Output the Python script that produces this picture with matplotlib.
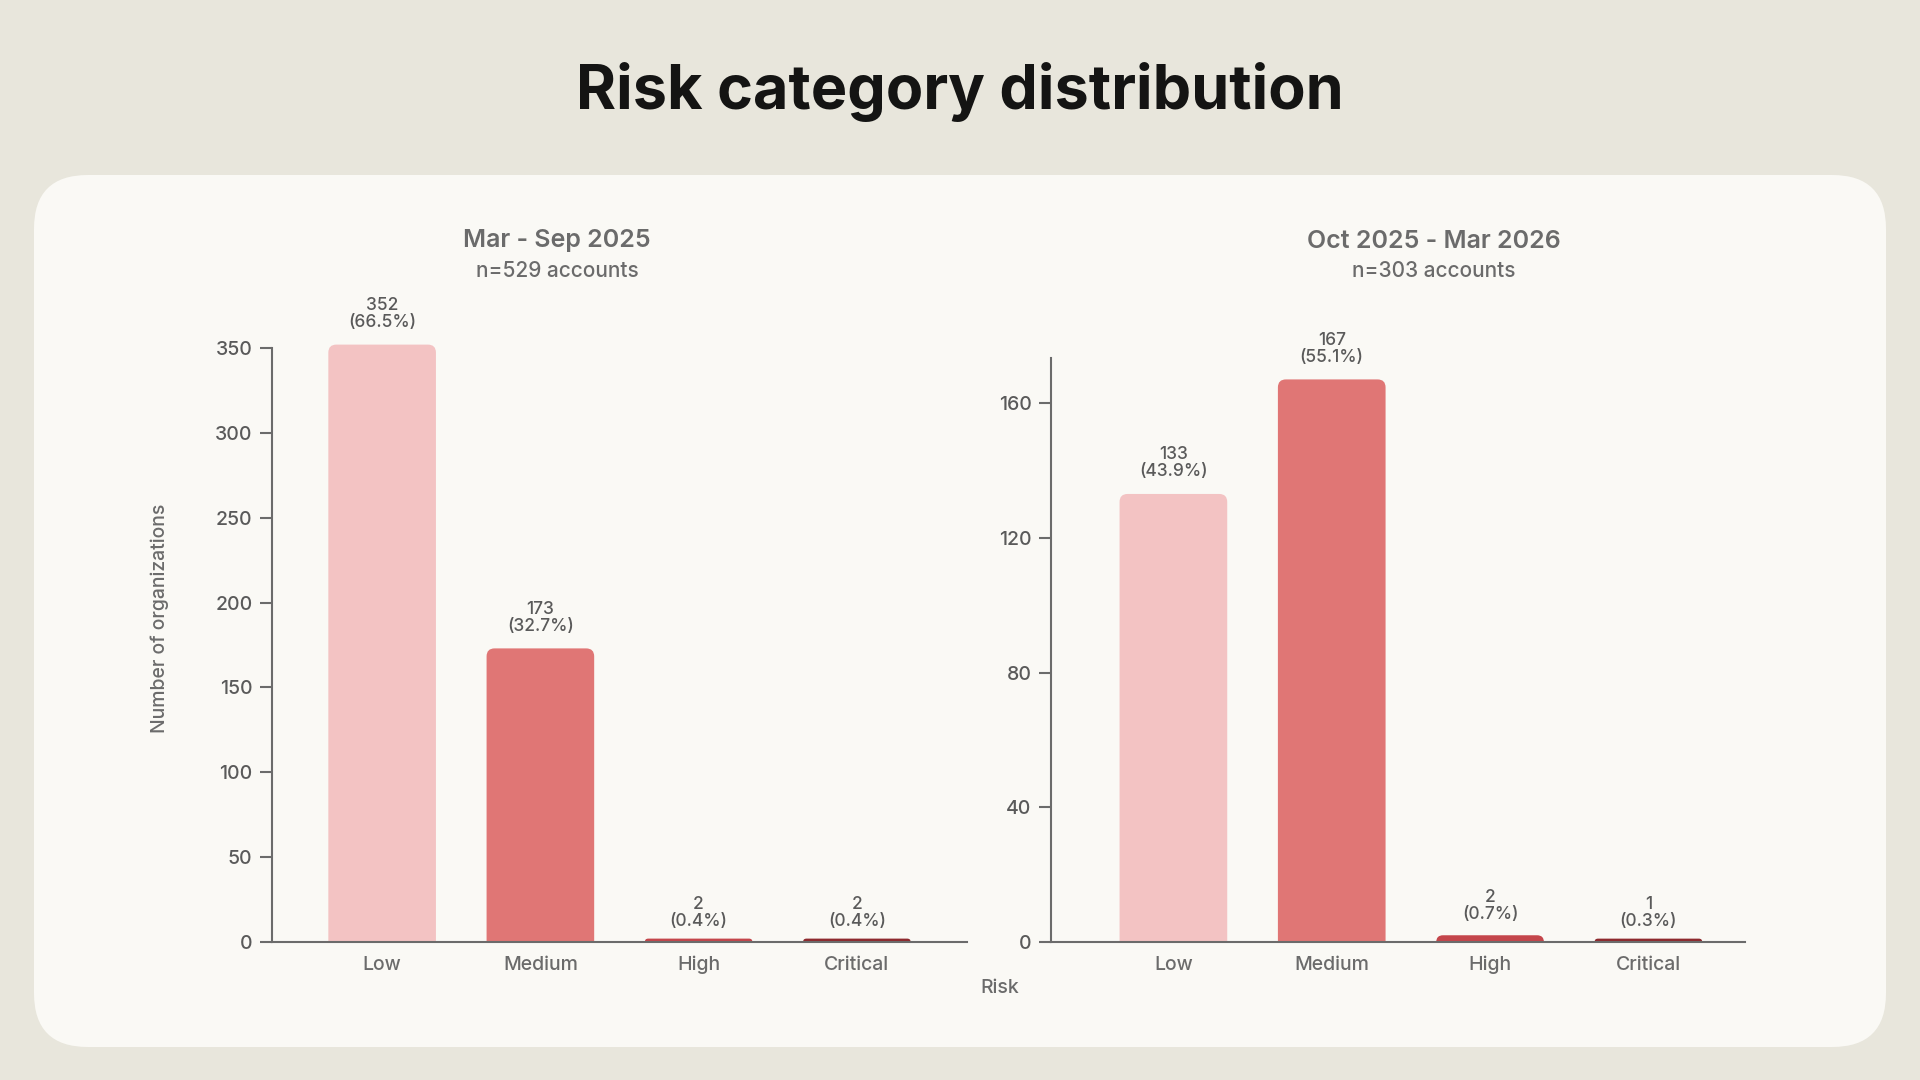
import matplotlib
matplotlib.use("Agg")
import matplotlib.pyplot as plt
from matplotlib.patches import FancyBboxPatch

plt.rcParams['font.family'] = ['Inter', 'DejaVu Sans']

# data
categories = ["Low", "Medium", "High", "Critical"]
period1_counts = [352, 173, 2, 2]
period1_pcts = [66.5, 32.7, 0.4, 0.4]
period2_counts = [133, 167, 2, 1]
period2_pcts = [43.9, 55.1, 0.7, 0.3]
period1_title = "Mar - Sep 2025"
period1_sub = "n=529 accounts"
period2_title = "Oct 2025 - Mar 2026"
period2_sub = "n=303 accounts"
left_ticks = [0, 50, 100, 150, 200, 250, 300, 350]
right_ticks = [0, 40, 80, 120, 160]

bar_colors = ["#F3C3C3", "#E07675", "#C4464B", "#8E2A2E"]
bg = "#E8E6DC"
card = "#FAF9F5"
grey = "#6B6B6B"
txt = "#5A5A5A"

W, H = 1920, 1080
fig = plt.figure(figsize=(19.2, 10.8), dpi=100)
fig.patch.set_facecolor(bg)

# card behind the plots
fig.patches.append(FancyBboxPatch((34 / W, 33 / H), 1852 / W, 872 / H,
                                  boxstyle="round,pad=0,rounding_size=0.028",
                                  transform=fig.transFigure, facecolor=card,
                                  edgecolor="none", mutation_aspect=W / H, zorder=-5))

fig.text(960 / W, 1 - 92 / H, "Risk category distribution", ha="center", va="center",
         fontsize=44, fontweight="bold", color="#141413")


def px_axes(x0, x1, ytop, ybot=942):
    return fig.add_axes([x0 / W, 1 - ybot / H, (x1 - x0) / W, (ybot - ytop) / H])


# 0 at y=942px; left: 350 at 348px, right: 160 at 403px
ax1 = px_axes(272, 967, 942 - 360 * (594 / 350))
ax2 = px_axes(1051, 1745, 942 - 173.4 * (539 / 160))


def draw(ax, counts, pcts, ticks, ymax, spine_top, xlim, radius=8):
    x = list(range(len(categories)))
    ax.set_xlim(*xlim)
    ax.set_ylim(0, ymax)
    bars = ax.bar(x, counts, width=0.68, color=bar_colors, zorder=2)
    sx = ax.bbox.width / (xlim[1] - xlim[0])
    sy = ax.bbox.height / ymax
    for b, c, p in zip(bars, counts, pcts):
        w, h = b.get_width(), b.get_height()
        r = min(radius, h * sy, w * sx / 2)
        # rounded top, bottom part hidden below the axis
        rb = FancyBboxPatch((b.get_x(), -r / sy), w, h + r / sy,
                            boxstyle="round,pad=0,rounding_size=%f" % (r / sx),
                            mutation_aspect=sx / sy, facecolor=b.get_facecolor(),
                            edgecolor="none", zorder=2)
        ax.add_patch(rb)
        b.set_visible(False)
        ax.annotate("%d\n(%.1f%%)" % (c, p), (b.get_x() + w / 2, h),
                    xytext=(0, 4 + r * 0.72), textcoords="offset points", ha="center",
                    va="bottom", fontsize=12.5, fontweight=500, color=txt,
                    linespacing=1.0, annotation_clip=False)
    ax.set_xticks(x)
    ax.set_xticklabels(categories, fontsize=14, fontweight=500, color=grey)
    ax.set_yticks(ticks)
    ax.set_yticklabels([str(t) for t in ticks], fontsize=14, fontweight=500, color=txt)
    ax.tick_params(axis="x", length=0, pad=10)
    ax.tick_params(axis="y", length=9, width=1.5, color=grey, pad=5)
    for s in ["top", "right"]:
        ax.spines[s].set_visible(False)
    for s in ["left", "bottom"]:
        ax.spines[s].set_color(grey)
        ax.spines[s].set_linewidth(1.5)
    ax.spines["left"].set_bounds(0, spine_top)
    ax.set_facecolor("none")


draw(ax1, period1_counts, period1_pcts, left_ticks, 360, 350, (-0.696, 3.696))
draw(ax2, period2_counts, period2_pcts, right_ticks, 173.4, 173.4, (-0.773, 3.61))

fig.text(557 / W, 1 - 241 / H, period1_title, ha="center", va="center",
         fontsize=18, fontweight="semibold", color=grey)
fig.text(557 / W, 1 - 271 / H, period1_sub, ha="center", va="center",
         fontsize=15, fontweight=500, color=grey)
fig.text(1434 / W, 1 - 241 / H, period2_title, ha="center", va="center",
         fontsize=18, fontweight="semibold", color=grey)
fig.text(1434 / W, 1 - 271 / H, period2_sub, ha="center", va="center",
         fontsize=15, fontweight=500, color=grey)

fig.text(160 / W, 1 - 618 / H, "Number of organizations", rotation=90, ha="center",
         va="center", fontsize=14, fontweight=500, color=grey)
fig.text(1000 / W, 1 - 988 / H, "Risk", ha="center", va="center", fontsize=14,
         fontweight=500, color=grey)

fig.savefig("out.png", dpi=100, facecolor=bg)
